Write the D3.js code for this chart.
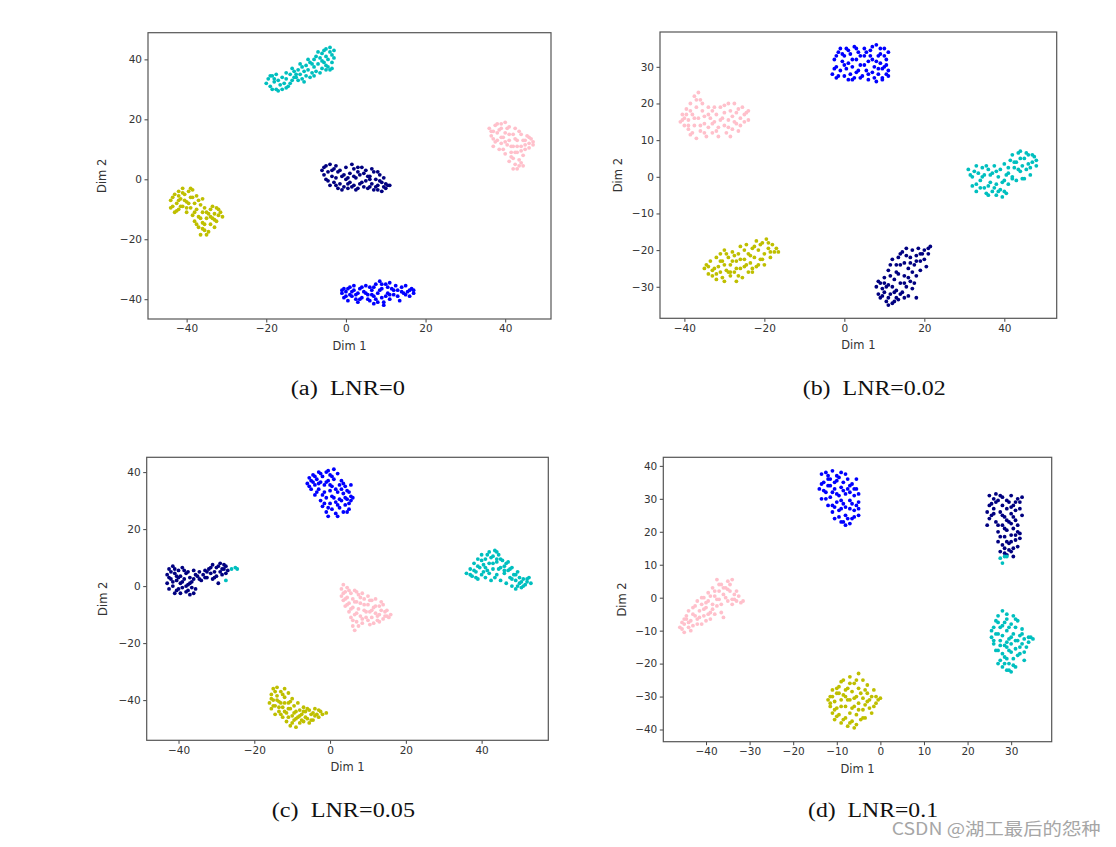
<!DOCTYPE html>
<html><head><meta charset="utf-8">
<script src="https://cdn.jsdelivr.net/npm/d3@7"></script>
<style>body{margin:0;background:#fff}text{white-space:pre}</style></head>
<body><svg id="chart" width="1116" height="847"></svg>
<script>
// ---------- DATA (t-SNE coordinates) ----------
const classNames = ["navy","blue","cyan","yellow","pink"];

// (a) LNR=0
const aNavy = [[-6,3],[-5.5,1.5],[-5,4.5],[-5,0],[-4.5,2.5],[-4,-2],[-4,5],[-3.5,1],[-3,3.5],[-3,-1],[-2.5,0.5],[-2,2.5],[-2,-3],[-1.5,-1.5],[-1,1],[-0.5,-2.5],[0,0],[0.5,-3],[1,2],[1,-1],[1.5,5],[2,-2],[2.5,0.5],[3,4],[3,-3],[3.5,1.5],[4,-1],[4.5,2],[5,-0.5],[5.5,-3],[6,1],[6.5,-1.5],[7,2.5],[7,-3.5],[7.5,0],[8,-2],[8.5,1.5],[9,-1],[9,-4],[9.5,-2.5],[10,-1.5],[10.5,-2],[11,-2],[0,4],[2,3.5],[4.5,-2.5],[-1,-3.5],[8,2.5],
  [-5.5,4],[-4.5,-0.5],[-3.5,3],[-2.5,4.5],[-1.5,3],[-0.5,1.5],[0.5,0.5],[1.5,-2.5],[2,1],[3,2.5],[3.5,-1.5],[4,4],[5,3],[5.5,1],[6,-2.5],[6.5,3.5],[7.5,-2.5],[8.5,-0.5],[9.5,0.5],[10,-3],[-2.5,-2],[0.5,-1.5],[2.5,-3.5],[6,0],[8,-3.5]];
const aBlue = [[-1,-38],[-0.5,-36.5],[-0.5,-39.5],[0,-37.5],[0.5,-40.5],[1,-36],[1,-38.5],[1.5,-39],[2,-37],[2.5,-40],[3,-38],[3.5,-36.5],[4,-39.5],[4.5,-37.5],[5,-35.5],[5.5,-38.5],[6,-36],[6,-40.5],[6.5,-37],[7,-39],[7.5,-35],[8,-38],[8,-41],[8.5,-34],[9,-36.5],[9,-39.5],[9.5,-42],[10,-35],[10.5,-38],[11,-40],[11.5,-36.5],[12,-38.5],[12.5,-35.5],[13,-37],[13.5,-40.5],[14,-36],[14.5,-38],[15,-35.5],[15.5,-37.5],[16,-39],[16.5,-36.5],[17,-38],[3,-41],[7,-41.5],[11,-34.5],
  [-1,-37],[0,-39],[0.5,-36.5],[1.5,-37.5],[2.5,-38.5],[3.5,-40],[4,-36],[5,-38],[5.5,-40],[6.5,-38.5],[7,-36],[7.5,-40],[8.5,-37],[9,-35],[10,-39],[10.5,-36],[11,-38.5],[12,-37],[13,-39],[14,-37.5],[15,-38.5],[16,-37],[17,-37],[9.5,-41],[2,-35.5]];
const aCyan = [[-20,32],[-19.5,33.5],[-19,31],[-18.5,34.5],[-18,32.5],[-17.5,30],[-17,33],[-17,29.5],[-16.5,31.5],[-16,34],[-15.5,32],[-15,33.5],[-14.5,31],[-14,35],[-13.5,33],[-13,36],[-12.5,34],[-12,36.5],[-11.5,35],[-11,33.5],[-11,37.5],[-10.5,36],[-10,34.5],[-10,38],[-9.5,36.5],[-9,39],[-8.5,35.5],[-8,37.5],[-8,40],[-7.5,41],[-7,38.5],[-6.5,40.5],[-6,37],[-6,42],[-5.5,39],[-5,41],[-5,43.5],[-4.5,37.5],[-4.5,40],[-4,42.5],[-3.5,39],[-3,43],[-4,36.5],[-5,36.5],[-3.5,41.5],[-13,34],[-15,30.5],[-18,33.5],
  [-19,34.5],[-18.5,30],[-17.5,35],[-16,30],[-15,35.5],[-14,32],[-13.5,37],[-12,33],[-11.5,38.5],[-10.5,32.5],[-9.5,40],[-9,34],[-8.5,38.5],[-7.5,36],[-7,42.5],[-6.5,35.5],[-5.5,43],[-5,38],[-4,44],[-3.5,37],[-3,40.5],[-6,39.5],[-8,34.5],[-12.5,35]];
const aYellow = [[-44,-7],[-43.5,-9],[-43,-5],[-43,-11],[-42.5,-8],[-42,-4],[-42,-10],[-41.5,-6.5],[-41,-3],[-41,-9],[-40.5,-5],[-40,-7.5],[-40,-11],[-39.5,-4],[-39,-9.5],[-39,-6],[-38.5,-12],[-38.5,-3.5],[-38,-8],[-38,-14],[-37.5,-10],[-37.5,-5.5],[-37,-12.5],[-37,-16],[-36.5,-8.5],[-36.5,-18.5],[-36,-11],[-36,-14.5],[-35.5,-17],[-35.5,-9.5],[-35,-13],[-35,-18.5],[-34.5,-11.5],[-34,-15],[-34,-10],[-33.5,-13],[-33,-16],[-33,-11.5],[-32.5,-9.5],[-32,-12],[-31.5,-11],[-31,-12.5],[-40,-9.5],[-42,-7],[-36,-6.5],
  [-44,-9.5],[-43.5,-6],[-42.5,-10.5],[-42,-5.5],[-41.5,-9],[-41,-4.5],[-40.5,-7],[-39.5,-8],[-39,-3],[-38,-11],[-37,-7],[-36.5,-13],[-36,-16.5],[-35,-11],[-34.5,-17.5],[-34,-12.5],[-33.5,-9],[-32.5,-14],[-32,-10],[-38.5,-6],[-37.5,-15],[-35.5,-15],[-33,-13.5]];
const aPink = [[36,17],[36.5,14.5],[37,16],[37,11],[37.5,18],[38,13],[38,15.5],[38.5,10],[39,17],[39,12],[39.5,14],[40,19],[40,15.5],[40.5,11.5],[41,17.5],[41,13],[41.5,9],[42,15],[42,11],[42,7],[42.5,17],[42.5,5],[43,13],[43,9],[43,3.5],[43.5,6.5],[44,11],[44,15],[44.5,8],[44.5,4.5],[45,13],[45,10],[45.5,14.5],[46,12],[46.5,13.5],[47,11.5],[41,6],[40,8.5],[43.5,16],[39.5,10],[44,5.5],[46,10.5],
  [36.5,16],[37.5,12.5],[38,18.5],[38.5,16.5],[39,14],[40,12.5],[40.5,17],[41,15],[41.5,11],[42.5,13.5],[42.5,9],[43,11],[43.5,4.5],[44,9.5],[44.5,13],[45,11.5],[46,14],[47,12.5],[41.5,7.5],[42,3.5],[39,18.5],[37,13.5]];

// (b) LNR=0.02
const bNavy = [[8,-30],[8.5,-32],[9,-29],[9,-33],[9.5,-30.5],[10,-27.5],[10,-31.5],[10.5,-34],[11,-29.5],[11,-25.5],[11.5,-32],[12,-30],[12,-22.5],[12,-34.5],[12.5,-28],[13,-31],[13,-24],[13.5,-26.5],[13.5,-33.5],[14,-29],[14,-21],[14.5,-31.5],[15,-23.5],[15,-27],[15.5,-30],[15.5,-19.5],[16,-25],[16,-32.5],[16.5,-22],[16.5,-28.5],[17,-20],[17,-30.5],[17.5,-24],[18,-21.5],[18,-27],[18.5,-19.5],[19,-23],[19,-25.5],[19.5,-21],[20,-20],[20.5,-24.5],[21,-19.5],[21.5,-19],[18,-33],[11,-35],[14.5,-20.5],[13,-33],[10,-29],
  [8.5,-28.5],[9.5,-32.5],[10.5,-30],[11,-33],[11.5,-27],[12.5,-31.5],[13,-26],[14,-32],[14,-24],[15,-29],[15.5,-21.5],[16,-27.5],[16.5,-23.5],[17,-26],[17.5,-29],[18,-23],[19,-21],[20,-22.5],[21,-21],[13.5,-22],[12.5,-34],[15,-33],[11.5,-24]];
const bBlue = [[-3,28],[-2.5,32],[-2,30],[-2,27],[-1.5,34],[-1,29],[-1,35],[-0.5,31.5],[0,27.5],[0,33],[0.5,29.5],[0.5,35],[1,31],[1.5,28],[1.5,33.5],[2,30],[2.5,35.5],[2.5,27],[3,32],[3.5,29],[3.5,34],[4,30.5],[4.5,27.5],[5,33],[5,35],[5.5,29],[6,31.5],[6,26.5],[6.5,34.5],[7,28.5],[7,32],[7.5,30],[8,36],[8,26],[8.5,33],[8.5,28],[9,31],[9,35],[9.5,29.5],[9.5,27],[10,33],[10,30],[10.5,28],[10.5,32],[11,34],[11,29],[4,33],[2,26.5],
  [-2.5,29.5],[-1.5,27.5],[-0.5,33.5],[0,30.5],[1,34.5],[1,26.5],[2,32],[3,28.5],[3,35],[4,27],[5,30.5],[5.5,34],[6,28],[7,35.5],[7.5,27],[8,31.5],[8.5,29.5],[9,33.5],[9.5,26.5],[10,35],[10.5,30.5],[11,27.5],[6.5,33],[-2,33]];
const bCyan = [[31,2],[32,0],[32.5,1.5],[33,-2],[33,-4],[33.5,1],[34,-1],[34.5,2.5],[35,-3],[35,0.5],[35.5,-4.5],[36,2],[36.5,-1.5],[37,-4],[37,1],[37.5,3],[38,-2],[38,-5],[38.5,0],[39,-3.5],[39,2],[39.5,-5.5],[40,-1],[40,3.5],[40.5,-4.5],[41,1],[41.5,4.5],[42,0],[42,6],[42.5,2.5],[43,-1],[43,4],[43.5,6.5],[44,1.5],[44.5,3],[45,5],[45,-0.5],[45.5,2],[46,6],[46,3.5],[46.5,0.5],[47,4],[47.5,5.5],[48,4.5],[44,7],[36,-2.5],[40.5,0.5],
  [31.5,0.5],[32,-2.5],[33,3],[34,-3],[34.5,0],[35.5,3],[36,-5],[36.5,0.5],[37.5,-3],[38,1.5],[38.5,-4],[39.5,-1.5],[40,-4],[41,-2],[41,2.5],[42.5,4],[43.5,2],[44,5],[44.5,-0.5],[45.5,6.5],[46.5,2.5],[47,6],[48,3],[42,-0.5]];
const bYellow = [[-35,-25],[-34.5,-24],[-34,-26.5],[-33.5,-23],[-33,-27],[-32.5,-25],[-32,-22],[-32,-28],[-31.5,-24.5],[-31,-21],[-31,-26],[-30.5,-23],[-30,-28.5],[-30,-20],[-29.5,-25.5],[-29,-22],[-28.5,-27],[-28.5,-24],[-28,-20.5],[-27.5,-26],[-27,-23],[-27,-28.5],[-26.5,-21],[-26,-25],[-26,-19],[-25.5,-27.5],[-25,-22.5],[-25,-24.5],[-24.5,-18.5],[-24,-26],[-24,-21],[-23.5,-23.5],[-23,-19.5],[-23,-26],[-22.5,-22],[-22,-17.5],[-22,-24.5],[-21.5,-20],[-21,-22.5],[-20.5,-18],[-20,-21],[-20,-24],[-19.5,-17],[-19,-19.5],[-18.5,-22],[-18,-18.5],[-17.5,-20.5],[-16.5,-20.5],[-28.5,-26],[-23,-25],
  [-34,-24.5],[-33,-25.5],[-32,-26.5],[-31,-23],[-30.5,-27.5],[-29.5,-21],[-29,-26],[-28,-23],[-27.5,-21.5],[-26.5,-27],[-26,-22.5],[-25,-20],[-24.5,-24],[-23.5,-21.5],[-22.5,-19],[-21.5,-24],[-21,-18.5],[-20.5,-22.5],[-19,-18],[-18.5,-20.5],[-17,-19.5],[-30,-24],[-27,-25]];
const bPink = [[-41,15],[-40.5,17],[-40,14],[-40,16],[-39.5,18.5],[-39,13],[-39,15.5],[-38.5,20],[-38.5,11.5],[-38,17],[-37.5,22],[-37.5,14],[-37,10.5],[-37,19],[-36.5,23],[-36.5,16],[-36,21],[-36,12.5],[-35.5,18],[-35,14.5],[-35,16.5],[-34.5,11],[-34,19],[-34,13.5],[-33.5,16],[-33,18],[-33,12],[-32.5,15],[-32,17],[-31.5,11],[-31.5,13.5],[-31,19],[-30.5,16],[-30,14],[-30,17.5],[-29.5,12],[-29,15.5],[-29,20],[-28.5,18],[-28,13],[-28,16.5],[-27.5,20],[-27,14.5],[-27,17.5],[-26.5,12.5],[-26,16],[-25.5,19],[-25,15],[-24.5,17.5],[-24,18],
  [-40.5,15.5],[-39.5,17],[-39,14],[-38.5,18],[-38,12],[-37.5,16],[-37,21],[-36,14],[-35.5,20],[-35,12],[-34,17],[-33,14.5],[-32.5,19],[-32,12.5],[-31,15.5],[-30,19.5],[-29,13.5],[-28.5,11],[-27.5,15],[-26.5,18.5],[-26,14],[-25,17],[-24,15.5]];

// (c) LNR=0.05
const cNavy = [[-43,1],[-43,4],[-42.5,6],[-42.5,-1],[-42,2.5],[-41.5,7],[-41.5,0],[-41,4.5],[-41,-2.5],[-40.5,2],[-40,5.5],[-40,-1],[-39.5,1],[-39.5,3.5],[-39,-0.5],[-39,6.5],[-38.5,2.5],[-38,-2],[-38,4.5],[-37.5,0.5],[-37,-3],[-37,3],[-36.5,1.5],[-36,5.5],[-35.5,-1],[-35,3.5],[-34.5,5],[-34,2],[-33.5,4],[-33,5.5],[-32.5,3],[-32,6],[-31.5,4.5],[-31,2.5],[-31,7.5],[-30.5,5],[-30,3.5],[-30,6.5],[-29.5,1],[-29,5],[-29,8],[-28.5,4],[-28,6],[-28,7.5],[-27.5,4.5],[-27,5.5],[-36,2.5],[-40.5,3.5],
  [-42.5,3],[-42,5],[-41.5,1.5],[-41,6],[-40.5,-1.5],[-40,3],[-39,1.5],[-38.5,5.5],[-38,0],[-37.5,-1.5],[-37.5,5],[-37,1],[-36.5,-0.5],[-35.5,4],[-34.5,2.5],[-33,3],[-32.5,5],[-31.5,6.5],[-30.5,3],[-29.5,7],[-28.5,6],[-27.5,7],[-39.5,-2.5],[-36,-2.5]];
const cBlue = [[-6,36],[-5.5,38],[-5,34],[-5,37],[-4.5,39],[-4,35.5],[-4,32],[-3.5,37.5],[-3,40],[-3,34],[-2.5,30],[-2.5,36.5],[-2,38.5],[-2,28],[-1.5,33],[-1.5,35.5],[-1,26],[-1,31],[-1,40],[-0.5,37],[-0.5,24.5],[0,29],[0,33.5],[0,39],[0.5,27],[0.5,35],[1,31],[1,37.5],[1,41],[1.5,25.5],[1.5,29.5],[2,33],[2,39.5],[2.5,27.5],[2.5,35.5],[3,30],[3,37],[3.5,26],[3.5,32.5],[4,28.5],[4,35],[4.5,26],[4.5,30.5],[5,33],[5,29],[5.5,35.5],[5.5,30],[6,31],
  [-5.5,35],[-4.5,36.5],[-4,38.5],[-3.5,33],[-3,36],[-2.5,39.5],[-2,32],[-1.5,29],[-1,36.5],[-0.5,27.5],[0,35.5],[0.5,31.5],[0.5,38.5],[1.5,34],[2,28.5],[2.5,30.5],[3,34],[3.5,36],[4,31],[4.5,33.5],[5,27],[5.5,31.5],[-0.5,40.5],[2,24.5]];
const cCyan = [[36,4.5],[37,6],[37.5,3.5],[38,8],[38.5,5],[39,9.5],[39,2.5],[39.5,6.5],[40,4],[40,11],[40.5,7.5],[41,3],[41,9.5],[41.5,5.5],[42,12],[42,8],[42.5,2],[43,6],[43,10.5],[43.5,12.5],[44,4],[44,8.5],[44.5,11],[45,6.5],[45,2],[45.5,9],[46,4.5],[46,7],[46.5,1],[47,5.5],[47,8.5],[47.5,3],[48,6.5],[48,0],[48.5,4],[49,2],[49,-1],[49.5,5],[50,1],[50,3],[50.5,-0.5],[51,2.5],[51.5,0.5],[52,1.5],[52.5,3],[53,1],[44,9.5],[41,6.5],
  [37,4],[38,5.5],[39,7],[40,9],[40.5,5],[41.5,11],[42,4.5],[42.5,10],[43,8],[43.5,3],[44.5,6],[45,9.5],[46,5.5],[46.5,8],[47.5,6],[48,2.5],[49,4],[49.5,0],[50.5,1.5],[51,0],[52,2.5],[44,12],[38.5,3],
  [-27.5,2],[-26,6],[-25,6.5],[-24.5,6]];
const cYellow = [[-16,-41],[-15.5,-43],[-15.5,-38],[-15,-40],[-15,-36],[-14.5,-45],[-14.5,-42],[-14,-38.5],[-14,-35.5],[-13.5,-44],[-13.5,-40.5],[-13,-37],[-12.5,-46],[-12.5,-42.5],[-12,-39],[-12,-36],[-11.5,-44.5],[-11.5,-47.5],[-11,-41],[-11,-37.5],[-10.5,-43],[-10.5,-49],[-10,-45.5],[-10,-39.5],[-9.5,-47],[-9.5,-42],[-9,-44],[-9,-49.5],[-8.5,-41],[-8.5,-46],[-8,-48],[-8,-43.5],[-7.5,-45],[-7,-42.5],[-7,-47.5],[-6.5,-44],[-6,-46.5],[-5.5,-43.5],[-5.5,-48],[-5,-45],[-4.5,-47],[-4,-43],[-4,-45.5],[-3,-46],[-3,-43.5],[-2,-45],[-1,-44.5],[-13,-41],
  [-15.5,-39.5],[-15,-42],[-14.5,-37],[-14,-40],[-13.5,-42.5],[-13,-45],[-12.5,-38],[-12,-41],[-11,-43],[-11,-46],[-10.5,-40.5],[-10,-48],[-9.5,-44.5],[-9,-46.5],[-8,-45.5],[-7.5,-47],[-7,-44],[-6.5,-46],[-6,-43],[-5,-47],[-4.5,-44.5],[-3.5,-45],[-2.5,-44],[-12,-44]];
const cPink = [[3,-1],[3,-3.5],[3.5,0.5],[3.5,-5],[4,-2],[4,-7],[4.5,-0.5],[4.5,-4],[5,-6],[5,-9],[5.5,-2.5],[5.5,-11],[6,-4.5],[6,-7.5],[6,-14],[6.5,-1.5],[6.5,-10],[6.5,-15.5],[7,-5.5],[7,-12.5],[7.5,-3],[7.5,-8],[8,-6],[8,-10.5],[8.5,-2.5],[8.5,-13],[9,-4.5],[9,-8.5],[9.5,-11],[10,-6.5],[10,-3.5],[10.5,-9],[10.5,-13.5],[11,-5],[11,-11],[11.5,-7.5],[12,-9.5],[12,-4.5],[12.5,-12],[13,-7],[13,-10],[13.5,-8.5],[14,-11.5],[14,-6.5],[14.5,-9],[15,-10.5],[15.5,-11],[11.5,-13],
  [3.5,-2.5],[4,-4.5],[4.5,-6.5],[5,-1.5],[5.5,-8],[6,-12],[6.5,-5.5],[7,-9.5],[7,-2],[7.5,-14],[8,-4],[8.5,-11.5],[9,-6.5],[9.5,-9],[10,-12],[10.5,-5],[11,-8.5],[12,-7],[12.5,-10.5],[13,-12.5],[13.5,-5.5],[14.5,-10.5],[15,-8.5],[16,-10]];

// (d) LNR=0.1
const dNavy = [[24.5,26],[24.5,22],[25,31],[25.5,28.5],[25.5,25],[26,30],[26,27],[26.5,23],[27,29.5],[27,20],[27,17],[27.5,26],[27.5,14],[28,22],[28,28],[28.5,18.5],[28.5,24.5],[28.5,15],[29,27],[29,20.5],[29,13],[29.5,29],[29.5,23],[29.5,16.5],[30,25.5],[30,19],[30,14],[30.5,28],[30.5,21],[30.5,12.5],[31,23.5],[31,17.5],[31,26.5],[31.5,20],[31.5,30],[31.5,15.5],[32,29],[32,19.5],[32.5,30.5],[32.5,25],[30,31],[28,30.5],[26.5,31.5],[29,17],[30,22.5],
  [25,24],[25,28],[26,25.5],[26.5,29],[27,22],[27.5,18.5],[27.5,31],[28,25],[28,16],[28.5,21],[29,29.5],[29,23.5],[29.5,14.5],[30,27.5],[30,17],[30.5,24.5],[31,19],[31,29],[31.5,22],[32,27],[32,18],[30.5,15],[28.5,13.5]];
const dBlue = [[-14,33],[-13.5,37.5],[-13.5,30],[-13,35],[-12.5,32],[-12.5,38],[-12,28],[-12,34],[-11.5,36],[-11.5,30.5],[-11,26],[-11,38.5],[-10.5,33],[-10.5,24],[-10,35.5],[-10,29],[-10,37],[-9.5,31],[-9.5,26.5],[-9,23],[-9,33.5],[-9,38],[-8.5,28.5],[-8.5,35],[-8,25],[-8,31.5],[-8,22],[-7.5,33],[-7.5,36],[-7,27],[-7,29.5],[-6.5,24],[-6.5,34.5],[-6,31],[-6,26.5],[-5.5,28],[-5.5,33],[-5,31.5],[-5,25],[-5.5,36],[-9,27],[-11,32],[-7,22.5],[-12,36],
  [-13.5,34.5],[-13,32.5],[-12.5,30],[-12,37],[-11.5,34],[-11,28],[-10.5,35],[-10.5,27.5],[-10,31.5],[-9.5,24.5],[-9.5,36.5],[-9,29.5],[-8.5,32.5],[-8,27.5],[-8,37.5],[-7.5,24],[-7,32],[-7,34],[-6.5,28.5],[-6,24.5],[-6,33],[-5,29],[-5,27],[-8.5,23]];
const dCyan = [[25.5,-12],[26,-9],[26,-14],[26.5,-7],[26.5,-11],[27,-5.5],[27,-16],[27.5,-13],[27.5,-19],[27.5,-9],[28,-4],[28,-21],[28,-11.5],[28.5,-7.5],[28.5,-14.5],[28.5,-18],[29,-5],[29,-10],[29,-22],[29.5,-12.5],[29.5,-16],[29.5,-20],[30,-8],[30,-14],[30,-22.5],[30.5,-5.5],[30.5,-18.5],[30.5,-11],[31,-9],[31,-15.5],[31,-21],[31.5,-13],[31.5,-7],[32,-17],[32,-11.5],[32.5,-14],[32.5,-9.5],[33,-12.5],[33,-19],[33.5,-15],[34,-13.5],[34.5,-12],[35,-12.5],[29,-13.5],[27,-20],
  [25.5,-10],[26,-13],[26.5,-16],[27,-7.5],[27,-11],[27.5,-14.5],[28,-8.5],[28,-17],[28.5,-20],[29,-6.5],[29,-15],[29.5,-9],[29.5,-22],[30,-12],[30,-16.5],[30.5,-20.5],[31,-6.5],[31,-13],[31.5,-17.5],[32,-15],[32.5,-11],[33,-16.5],[34,-12],[29,-18.5],
  [27.5,12],[28,10.5],[28.5,12.5],[29,12.5]];
const dYellow = [[-12,-31],[-11.5,-30],[-11.5,-33],[-11,-28],[-11,-35],[-10.5,-31.5],[-10.5,-37],[-10,-29],[-10,-33.5],[-9.5,-27],[-9.5,-35.5],[-9,-31],[-9,-38],[-8.5,-25],[-8.5,-29.5],[-8,-33],[-8,-36.5],[-7.5,-27.5],[-7.5,-39],[-7,-24],[-7,-31],[-7,-35],[-6.5,-28.5],[-6.5,-37.5],[-6,-33],[-6,-26],[-6,-39.5],[-5.5,-30],[-5.5,-35.5],[-5,-23],[-5,-27.5],[-5,-32],[-4.5,-37],[-4,-25],[-4,-30.5],[-4,-34],[-3.5,-28],[-3.5,-36.5],[-3,-31.5],[-3,-26.5],[-2.5,-33.5],[-2,-30],[-2,-35],[-1.5,-28],[-1,-32],[-0.5,-31],[0,-30.5],[-8,-30],
  [-11.5,-32],[-11,-30],[-10.5,-34],[-10,-27.5],[-10,-36],[-9.5,-29],[-9,-33],[-9,-25.5],[-8.5,-37],[-8,-28],[-7.5,-31],[-7,-26],[-7,-38],[-6.5,-33.5],[-6,-30.5],[-5.5,-25],[-5.5,-38.5],[-5,-34],[-4.5,-29],[-4,-36.5],[-3.5,-32.5],[-3,-29],[-2.5,-31],[-1.5,-33],[-1,-30]];
const dPink = [[-46,-9],[-45.5,-7.5],[-45,-10.5],[-45,-8],[-44.5,-5.5],[-44,-9],[-44,-4],[-43.5,-7],[-43,-5],[-43,-8.5],[-42.5,-2.5],[-42,-6.5],[-42,-1],[-41.5,-4],[-41,-8],[-41,-2],[-40.5,0],[-40.5,-5.5],[-40,-3],[-40,-7],[-39.5,1.5],[-39.5,-1],[-39,-4.5],[-39,-6.5],[-38.5,3],[-38.5,-2],[-38,0.5],[-38,-5],[-37.5,5.5],[-37.5,-2.5],[-37,2],[-37,-0.5],[-36.5,4],[-36.5,-4.5],[-36,1],[-36,-6],[-35.5,3],[-35,5],[-35,-1],[-34.5,2],[-34,-0.5],[-34,5.5],[-33.5,1],[-33,-1],[-32.5,0.5],[-32,-1.5],[-31.5,-1],[-44.5,-6.5],
  [-45.5,-9.5],[-45,-6.5],[-44,-7.5],[-43.5,-10],[-43,-3],[-42.5,-5.5],[-42,-8],[-41.5,-6],[-41,0],[-40.5,-3.5],[-40,-1.5],[-39.5,-5],[-39,0.5],[-38.5,-3.5],[-38,2],[-37.5,-0.5],[-37,4],[-36.5,-2],[-36,3],[-35.5,0],[-35,2.5],[-34.5,4],[-33.5,-0.5],[-33,2],[-34,-2]];

// tick values
const aXTicks = [-40,-20,0,20,40], aYTicks = [-40,-20,0,20,40];
const bXTicks = [-40,-20,0,20,40], bYTicks = [-30,-20,-10,0,10,20,30];
const cXTicks = [-40,-20,0,20,40], cYTicks = [-40,-20,0,20,40];
const dXTicks = [-40,-30,-20,-10,0,10,20,30], dYTicks = [-40,-30,-20,-10,0,10,20,30,40];

const captions = ["(a)  LNR=0","(b)  LNR=0.02","(c)  LNR=0.05","(d)  LNR=0.1"];
const xLabel = "Dim 1", yLabel = "Dim 2";
const watermark = "CSDN @湖工最后的怨种";

// ---------- STYLE / LAYOUT ----------
const colors = {navy:"#000080", blue:"#0000ff", cyan:"#00bfbf", yellow:"#bfbf00", pink:"#ffc0cb"};
const panels = [
  {series:[aNavy,aBlue,aCyan,aYellow,aPink], xt:aXTicks, yt:aYTicks,
   x0:148, x1:551, y0:32.7, y1:319, xd:[-49.7,51.5], yd:[-46.6,48.9], ylab:42,
   cap:{x:290.7, w:114.3, y:395}},
  {series:[bNavy,bBlue,bCyan,bYellow,bPink], xt:bXTicks, yt:bYTicks,
   x0:660, x1:1056.7, y0:32, y1:318.3, xd:[-46.1,53.1], yd:[-38.6,39.5], ylab:38,
   cap:{x:802.7, w:143, y:395}},
  {series:[cNavy,cBlue,cCyan,cYellow,cPink], xt:cXTicks, yt:cYTicks,
   x0:146.7, x1:548.3, y0:457.3, y1:740.3, xd:[-48.4,57.6], yd:[-54.1,45.2], ylab:40,
   cap:{x:271.7, w:143.3, y:817}},
  {series:[dNavy,dBlue,dCyan,dYellow,dPink], xt:dXTicks, yt:dYTicks,
   x0:663.3, x1:1051.7, y0:457.3, y1:741.7, xd:[-49.8,39.3], yd:[-43.7,42.6], ylab:37,
   cap:{x:808, w:130, y:817}}
];

const svg = d3.select("#chart");
svg.append("rect").attr("width",1116).attr("height",847).attr("fill","#fff");
const fmt = d => d < 0 ? "\u2212" + Math.abs(d) : String(d);

panels.forEach((p,i) => {
  const x = d3.scaleLinear().domain(p.xd).range([p.x0,p.x1]);
  const y = d3.scaleLinear().domain(p.yd).range([p.y1,p.y0]);
  const g = svg.append("g");

  p.series.forEach((pts,k) => {
    g.append("g").selectAll("circle").data(pts).join("circle")
      .attr("cx", d => x(d[0])).attr("cy", d => y(d[1]))
      .attr("r", 1.9).attr("fill", colors[classNames[k]]);
  });

  const xa = g.append("g").attr("transform",`translate(0,${p.y1})`)
    .call(d3.axisBottom(x).tickValues(p.xt).tickSize(3.5).tickPadding(2.5).tickFormat(fmt));
  const ya = g.append("g").attr("transform",`translate(${p.x0},0)`)
    .call(d3.axisLeft(y).tickValues(p.yt).tickSize(3.5).tickPadding(2.5).tickFormat(fmt));
  [xa,ya].forEach(a => {
    a.select(".domain").remove();
    a.selectAll("line").attr("stroke","#444");
    a.selectAll("text").attr("font-family","DejaVu Sans").attr("font-size",10.5).attr("fill","#333");
  });

  g.append("rect").attr("x",p.x0).attr("y",p.y0).attr("width",p.x1-p.x0).attr("height",p.y1-p.y0)
    .attr("fill","none").attr("stroke","#555").attr("stroke-width",1.2);

  g.append("text").attr("x",(p.x0+p.x1)/2).attr("y",p.y1+31).attr("text-anchor","middle")
    .attr("font-family","DejaVu Sans").attr("font-size",11.5).attr("fill","#333").text(xLabel);
  g.append("text").attr("transform",`translate(${p.x0-p.ylab},${(p.y0+p.y1)/2}) rotate(-90)`)
    .attr("text-anchor","middle").attr("font-family","DejaVu Sans").attr("font-size",11.5)
    .attr("fill","#333").text(yLabel);

  svg.append("text").attr("x",p.cap.x).attr("y",p.cap.y)
    .attr("font-family","Liberation Serif").attr("font-size",20).attr("fill","#111")
    .attr("textLength",p.cap.w).attr("lengthAdjust","spacingAndGlyphs")
    .text(captions[i]);
});

svg.append("text").attr("x",891.7).attr("y",835)
  .attr("font-family","Noto Sans CJK SC").attr("font-size",17).attr("fill","#a6a6a6")
  .attr("textLength",209).attr("lengthAdjust","spacingAndGlyphs").text(watermark);
</script></body></html>
